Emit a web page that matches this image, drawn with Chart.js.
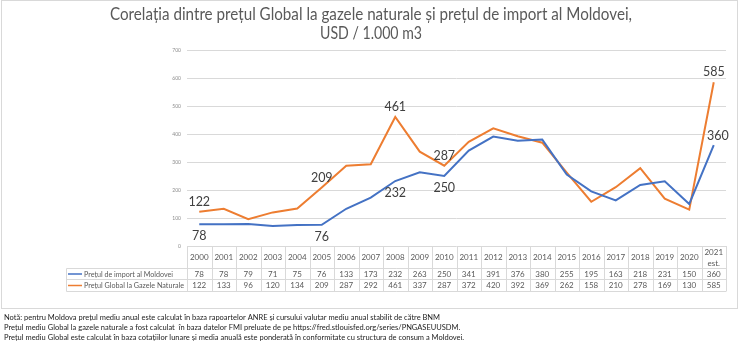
<!DOCTYPE html>
<html>
<head>
<meta charset="utf-8">
<script src="https://cdn.jsdelivr.net/npm/chart.js@4/dist/chart.umd.min.js"></script>
<style>
  html, body { margin: 0; padding: 0; background: #fff; }
  canvas { display: block; }
</style>
</head>
<body>
<canvas id="chart" width="740" height="345"></canvas>
<script>
const years = ["2000","2001","2002","2003","2004","2005","2006","2007","2008","2009","2010",
  "2011","2012","2013","2014","2015","2016","2017","2018","2019","2020","2021"];
const importPrice = [78,78,79,71,75,76,133,173,232,263,250,341,391,376,380,255,195,163,218,231,150,360];
const globalPrice = [122,133,96,120,134,209,287,292,461,337,287,372,420,392,369,262,158,210,278,169,130,585];
const seriesNames = ["Prețul de import al Moldovei", "Prețul Global la Gazele Naturale"];
const titleLines = ["Corelația dintre prețul Global la gazele naturale și prețul de import al Moldovei,", "USD / 1.000 m3"];
const notes = [
  "Notă: pentru Moldova prețul mediu anual este calculat în baza rapoartelor ANRE și cursului valutar mediu anual stabilit de către BNM",
  "Prețul mediu Global la gazele naturale a fost calculat  în baza datelor FMI preluate de pe https://fred.stlouisfed.org/series/PNGASEUUSDM.",
  "Prețul mediu Global este calculat în baza cotațiilor lunare și media anuală este ponderată în conformitate cu structura de consum a Moldovei."
];
// which points get a value label
const labeledPoints = [0, 5, 8, 10, 21];

const BLUE = "#4472C4";
const ORANGE = "#ED7D31";
const GRID = "#d9d9d9";
const TEXT = "#595959";
const FONT = "Lato, 'Open Sans', sans-serif";

// squeeze text horizontally so it is no wider than w (Calibri is narrower than what we have)
function squeezeText(ctx, txt, x, y, w) {
  const real = ctx.measureText(txt).width;
  const k = Math.min(1, w / real);
  ctx.save();
  ctx.translate(x, y);
  ctx.scale(k, 1);
  ctx.fillText(txt, 0, 0);
  ctx.restore();
}

const extras = {
  id: "extras",
  afterDraw(chart) {
    const ctx = chart.ctx;
    const x = chart.scales.x;
    const area = chart.chartArea;
    const colW = (area.right - area.left) / years.length;
    ctx.save();

    // outer frame
    ctx.strokeStyle = GRID;
    ctx.lineWidth = 1;
    ctx.strokeRect(1.5, 0.5, 736, 308);

    // title
    ctx.fillStyle = TEXT;
    ctx.textAlign = "center";
    ctx.textBaseline = "middle";
    ctx.font = "17px " + FONT;
    squeezeText(ctx, titleLines[0], 371, 15, 522);
    squeezeText(ctx, titleLines[1], 371, 34, 102);

    // data table
    const top = area.bottom, r1 = 268.5, r2 = 279.5, r3 = 291.5, legL = 66.5;
    ctx.beginPath();
    for (let k = 0; k <= years.length; k++) {
      const xx = Math.round(area.left + k * colW) + 0.5;
      ctx.moveTo(xx, top); ctx.lineTo(xx, r3);
    }
    ctx.moveTo(legL, r1); ctx.lineTo(legL, r3);
    [r1, r2, r3].forEach(yy => { ctx.moveTo(legL, yy); ctx.lineTo(area.right, yy); });
    ctx.stroke();

    ctx.font = "8px " + FONT;
    ctx.fillStyle = TEXT;
    years.forEach((yr, i) => {
      const cx = x.getPixelForValue(i);
      if (i === years.length - 1) {
        ctx.fillText(yr, cx, 252);
        ctx.fillText("est.", cx, 263);
      } else {
        ctx.fillText(yr, cx, 257);
      }
      ctx.fillText(String(importPrice[i]), cx, 274);
      ctx.fillText(String(globalPrice[i]), cx, 285.5);
    });

    // legend keys in table
    ctx.textAlign = "left";
    [[seriesNames[0], BLUE, 274, 89], [seriesNames[1], ORANGE, 285.5, 100]].forEach(([name, col, yy, w]) => {
      ctx.strokeStyle = col;
      ctx.lineWidth = 1.5;
      ctx.beginPath(); ctx.moveTo(68, yy); ctx.lineTo(82, yy); ctx.stroke();
      ctx.fillStyle = TEXT;
      squeezeText(ctx, name, 84, yy, w);
    });

    // point labels
    ctx.font = "12.5px " + FONT;
    ctx.fillStyle = "#404040";
    ctx.textAlign = "center";
    const m0 = chart.getDatasetMeta(0), m1 = chart.getDatasetMeta(1);
    labeledPoints.forEach(i => {
      const pb = m0.data[i], po = m1.data[i];
      ctx.fillText(String(globalPrice[i]), po.x, po.y - 10);
      if (i === years.length - 1) ctx.fillText(String(importPrice[i]), pb.x + 4, pb.y - 9);
      else ctx.fillText(String(importPrice[i]), pb.x, pb.y + 12);
    });

    // notes
    ctx.font = "7.5px " + FONT;
    ctx.fillStyle = "#222";
    ctx.textAlign = "left";
    notes.forEach((n, k) => ctx.fillText(n, 4, 318 + k * 10));

    ctx.restore();
  }
};

new Chart(document.getElementById("chart"), {
  type: "line",
  data: {
    labels: years,
    datasets: [
      { label: seriesNames[0], data: importPrice, borderColor: BLUE, borderWidth: 2, pointRadius: 0, tension: 0 },
      { label: seriesNames[1], data: globalPrice, borderColor: ORANGE, borderWidth: 2, pointRadius: 0, tension: 0 }
    ]
  },
  options: {
    responsive: false,
    animation: false,
    layout: { padding: { top: 50, right: 14, bottom: 0, left: 0 } },
    plugins: { legend: { display: false }, tooltip: { enabled: false } },
    scales: {
      x: {
        offset: true,
        grid: { display: false },
        border: { display: false },
        ticks: { display: false },
        afterFit: s => { s.height = 99; }
      },
      y: {
        min: 0, max: 700,
        ticks: { stepSize: 100, font: { size: 5, family: FONT }, color: "#8c8c8c", padding: 6 },
        grid: { color: GRID, drawTicks: false },
        border: { display: false },
        afterFit: s => { s.width = 187; }
      }
    }
  },
  plugins: [extras]
});
</script>
</body>
</html>
